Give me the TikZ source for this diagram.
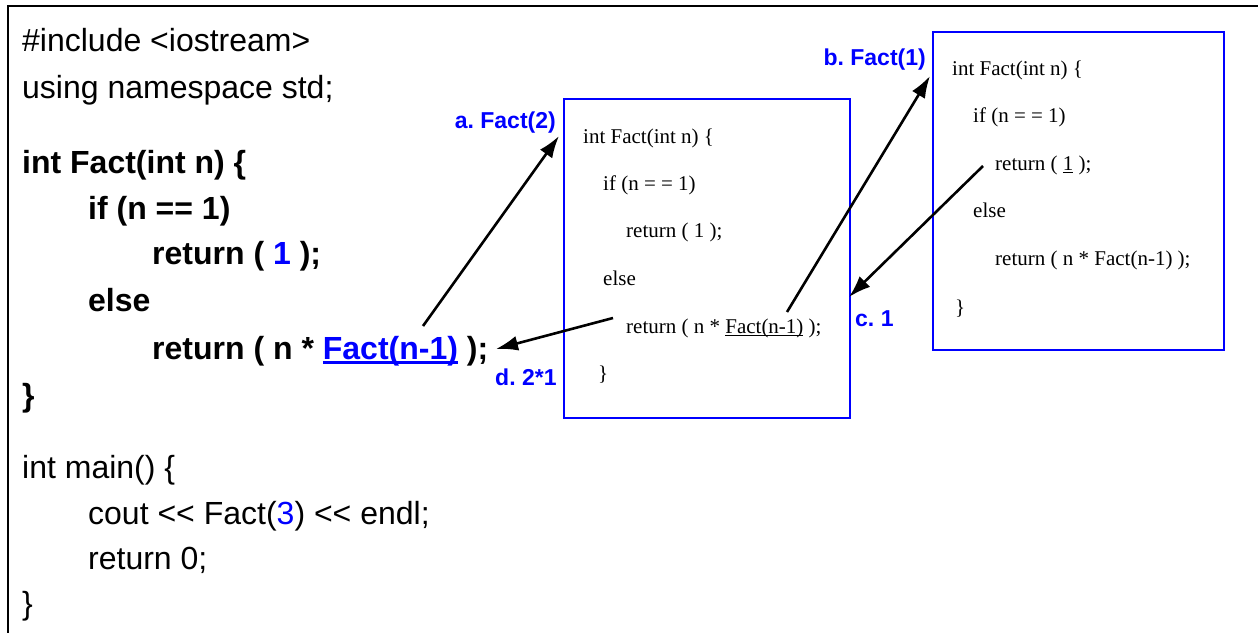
\documentclass[tikz,border=0pt]{standalone}
\usepackage{fontspec}
\setmainfont{Liberation Serif}
\newfontfamily\arial{Liberation Sans}
\usetikzlibrary{arrows.meta}
\definecolor{pblue}{RGB}{0,0,255}
\frenchspacing
\newcommand\thickul[3]{\setbox0\hbox{#3}\rlap{\rule[-#1]{\wd0}{#2}}\box0\relax}
\begin{document}
\begin{tikzpicture}[x=1pt,y=-1pt,
  code/.style={anchor=base west, inner sep=0pt, font=\arial\fontsize{32}{38}\selectfont},
  bcode/.style={anchor=base west, inner sep=0pt, font=\arial\bfseries\fontsize{32}{38}\selectfont},
  small/.style={anchor=base west, inner sep=0pt, font=\fontsize{21}{25}\selectfont},
  lbl/.style={inner sep=0pt, text=pblue, font=\arial\bfseries\fontsize{23}{27}\selectfont},
  framebox/.style={draw=pblue, line width=2pt},
  arr/.style={line width=2.6pt, -{Latex[length=22pt,width=15pt]}}]
\useasboundingbox (0,0) rectangle (1258,632);
% outer frame
\coordinate (fb) at (8,640);
\coordinate (ftl) at (8,6);
\coordinate (ftr) at (1262,6);
\draw[line width=2pt] (fb) -- (ftl) -- (ftr);
% left code
\node[code] (l1) at (22,51) {\#include <iostream>};
\node[code] (l2) at (22,98) {using namespace std;};
\node[bcode] (l3) at (22,173) {int Fact(int n) \{};
\node[bcode] (l4) at (88,219) {if (n == 1)};
\node[bcode] (l5) at (152,264) {return ( \textcolor{pblue}{1} );};
\node[bcode] (l6) at (88,311) {else};
\node[bcode] (l7) at (152,359) {return ( n * \textcolor{pblue}{\thickul{5pt}{2.6pt}{Fact(n-1)}} );};
\node[bcode] (l8) at (22,406) {\}};
\node[code] (l9) at (22,478) {int main() \{};
\node[code] (l10) at (88,524) {cout << Fact(\textcolor{pblue}{3}) << endl;};
\node[code] (l11) at (88,569) {return 0;};
\node[code] (l12) at (22,614) {\}};
% middle box
\node[framebox, minimum width=286pt, minimum height=319pt, anchor=north west, inner sep=0pt] (box2) at (563,98) {};
\node[small] (m1) at (583,143) {int Fact(int n) \{};
\node[small] (m2) at (603,190) {if (n = = 1)};
\node[small] (m3) at (626,237) {return ( 1 );};
\node[small] (m4) at (603,285) {else};
\node[small] (m5) at (626,333) {return ( n * \thickul{3pt}{1.2pt}{Fact(n-1)} );};
\node[small] (m6) at (598,380) {\}};
% right box
\node[framebox, minimum width=291pt, minimum height=318pt, anchor=north west, inner sep=0pt] (box1) at (932,31) {};
\node[small] (r1) at (952,75) {int Fact(int n) \{};
\node[small] (r2) at (973,122) {if (n = = 1)};
\node[small] (r3) at (995,170) {return ( \thickul{3pt}{1.2pt}{1} );};
\node[small] (r4) at (973,217) {else};
\node[small] (r5) at (995,265) {return ( n * Fact(n-1) );};
\node[small] (r6) at (955,314) {\}};
% labels
\node[lbl, anchor=base east] (la) at (556,128) {a. Fact(2)};
\node[lbl, anchor=base east] (lb) at (926,65) {b. Fact(1)};
\node[lbl, anchor=base west] (lc) at (855,326) {c. 1};
\node[lbl, anchor=base west] (ld) at (495,385) {d. 2*1};
% arrows
\coordinate (a1s) at (423,326); \coordinate (a1e) at (559,136);
\coordinate (a2s) at (787,312); \coordinate (a2e) at (930,76);
\coordinate (a3s) at (983,166); \coordinate (a3e) at (849,297);
\coordinate (a4s) at (613,318); \coordinate (a4e) at (496,349);
\draw[arr] (a1s) -- (a1e);
\draw[arr] (a2s) -- (a2e);
\draw[arr] (a3s) -- (a3e);
\draw[arr] (a4s) -- (a4e);
\end{tikzpicture}
\end{document}
